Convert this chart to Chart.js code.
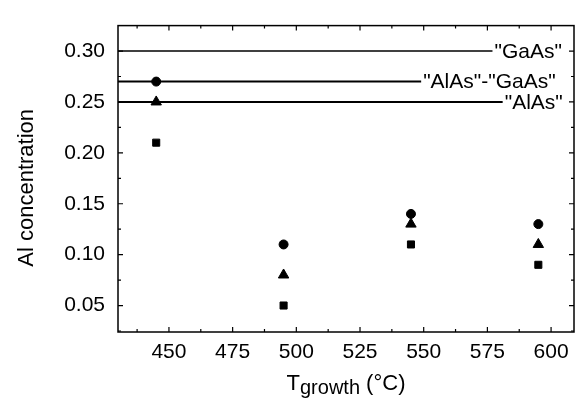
<!DOCTYPE html>
<html>
<head>
<meta charset="utf-8">
<script src="https://cdn.jsdelivr.net/npm/chart.js@4/dist/chart.umd.min.js"></script>
<style>
html,body{margin:0;padding:0;background:#fff;}
#wrap{width:581px;height:398px;}
</style>
</head>
<body>
<div id="wrap"><canvas id="c" width="581" height="398"></canvas></div>
<script>
// ---- data ----
const xValues = [445, 495, 545, 595];
const squareValues = [0.21, 0.05, 0.11, 0.09];
const triangleValues = [0.25, 0.08, 0.13, 0.11];
const circleValues = [0.27, 0.11, 0.14, 0.13];
const refLineNames = ['"GaAs"', '"AlAs"-"GaAs"', '"AlAs"'];
const refLineValues = [0.30, 0.27, 0.25];
const refLineEnds = [577, 549, 581];
const xTickValues = [450, 475, 500, 525, 550, 575, 600];
const yTickValues = [0.05, 0.10, 0.15, 0.20, 0.25, 0.30];
const xRange = [430, 609];
const yRange = [0.024, 0.325];
const xTitleMain = 'T';
const xTitleSub = 'growth';
const xTitleUnit = ' (°C)';
const yTitle = 'Al concentration';

const FONT = '"Liberation Sans", Arial, Helvetica, sans-serif';

function pts(vals) { return xValues.map((x, i) => ({x: x, y: vals[i]})); }

const refDatasets = refLineValues.map((v, i) => ({
  type: 'line',
  label: refLineNames[i],
  data: [{x: xRange[0], y: v}, {x: refLineEnds[i], y: v}],
  borderColor: '#000',
  borderWidth: i === 0 ? 1.4 : 2,
  pointRadius: 0,
  fill: false,
  order: 2
}));

const markerBase = {type: 'scatter', backgroundColor: '#000', borderColor: '#000', borderWidth: 1, order: 1};

const frame = {
  id: 'frame',
  afterDatasetsDraw(chart) {
    const ctx = chart.ctx, a = chart.chartArea;
    const xs = chart.scales.x, ys = chart.scales.y;
    ctx.save();
    ctx.strokeStyle = '#000';
    ctx.lineWidth = 1.5;
    ctx.strokeRect(a.left, a.top, a.right - a.left, a.bottom - a.top);
    ctx.lineWidth = 1.2;
    ctx.beginPath();
    xTickValues.forEach(v => {
      const p = xs.getPixelForValue(v);
      ctx.moveTo(p, a.bottom); ctx.lineTo(p, a.bottom - 5);
      ctx.moveTo(p, a.top); ctx.lineTo(p, a.top + 5);
    });
    const xMinor = [xTickValues[0] - 12.5].concat(xTickValues.map(v => v + 12.5));
    xMinor.forEach(v => {
      if (v <= xRange[0] || v >= xRange[1]) return;
      const p = xs.getPixelForValue(v);
      ctx.moveTo(p, a.bottom); ctx.lineTo(p, a.bottom - 3);
      ctx.moveTo(p, a.top); ctx.lineTo(p, a.top + 3);
    });
    yTickValues.forEach(v => {
      const p = ys.getPixelForValue(v);
      ctx.moveTo(a.left, p); ctx.lineTo(a.left + 5, p);
      ctx.moveTo(a.right, p); ctx.lineTo(a.right - 5, p);
    });
    const yMinor = [yTickValues[0] - 0.025].concat(yTickValues.map(v => v + 0.025));
    yMinor.forEach(v => {
      if (v <= yRange[0] || v >= yRange[1]) return;
      const p = ys.getPixelForValue(v);
      ctx.moveTo(a.left, p); ctx.lineTo(a.left + 3, p);
      ctx.moveTo(a.right, p); ctx.lineTo(a.right - 3, p);
    });
    ctx.stroke();

    // reference line labels
    ctx.fillStyle = '#000';
    ctx.font = '21px ' + FONT;
    ctx.textBaseline = 'middle';
    ctx.textAlign = 'left';
    refLineValues.forEach((v, i) => {
      ctx.fillText(refLineNames[i], xs.getPixelForValue(refLineEnds[i]) + 2, ys.getPixelForValue(v) + 1);
    });

    // x title with subscript
    const bigF = '22px ' + FONT, smallF = '20px ' + FONT;
    ctx.textBaseline = 'alphabetic';
    ctx.font = bigF; const w1 = ctx.measureText(xTitleMain).width;
    const w3 = ctx.measureText(xTitleUnit).width;
    ctx.font = smallF; const w2 = ctx.measureText(xTitleSub).width;
    const total = w1 + w2 + w3;
    let x0 = (a.left + a.right) / 2 - total / 2;
    const base = 390;
    ctx.font = bigF; ctx.fillText(xTitleMain, x0, base);
    ctx.font = smallF; ctx.fillText(xTitleSub, x0 + w1, base + 4);
    ctx.font = bigF; ctx.fillText(xTitleUnit, x0 + w1 + w2, base);

    // y title
    ctx.save();
    ctx.translate(33, (a.top + a.bottom) / 2 + 9);
    ctx.rotate(-Math.PI / 2);
    ctx.textAlign = 'center';
    ctx.font = '22px ' + FONT;
    ctx.fillText(yTitle, 0, 0);
    ctx.restore();
    ctx.restore();
  }
};

new Chart(document.getElementById('c'), {
  type: 'scatter',
  data: {
    datasets: [
      ...refDatasets,
      Object.assign({}, markerBase, {label: 'circle', data: pts(circleValues), pointStyle: 'circle', pointRadius: 4.5}),
      Object.assign({}, markerBase, {label: 'triangle', data: pts(triangleValues), pointStyle: 'triangle', pointRadius: 6}),
      Object.assign({}, markerBase, {label: 'square', data: pts(squareValues), pointStyle: 'rect', pointRadius: 5})
    ]
  },
  options: {
    responsive: false,
    animation: false,
    devicePixelRatio: 1,
    layout: {padding: {top: 6, right: 7, left: 0, bottom: 0}},
    plugins: {legend: {display: false}, tooltip: {enabled: false}},
    elements: {point: {hoverRadius: 0}},
    scales: {
      x: {
        type: 'linear', min: xRange[0], max: xRange[1],
        afterBuildTicks: s => { s.ticks = xTickValues.map(v => ({value: v})); },
        afterFit: s => { s.height = 66; },
        grid: {display: false, drawTicks: false},
        border: {display: false},
        ticks: {color: '#000', font: {family: FONT, size: 21}, padding: 8, maxRotation: 0, autoSkip: false,
                callback: v => String(v)}
      },
      y: {
        type: 'linear', min: yRange[0], max: yRange[1],
        afterBuildTicks: s => { s.ticks = yTickValues.map(v => ({value: v})); },
        afterFit: s => { s.width = 118; },
        grid: {display: false, drawTicks: false},
        border: {display: false},
        ticks: {color: '#000', font: {family: FONT, size: 21}, padding: 13, autoSkip: false,
                callback: v => v.toFixed(2)}
      }
    }
  },
  plugins: [frame]
});
</script>
</body>
</html>
